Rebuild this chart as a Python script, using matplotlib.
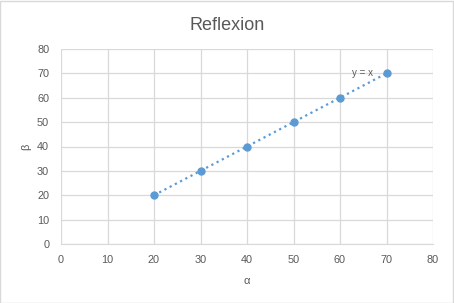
import matplotlib
matplotlib.use('Agg')
import matplotlib.pyplot as plt

# data
alpha = [20, 30, 40, 50, 60, 70]
beta = [20, 30, 40, 50, 60, 70]
ticks = list(range(0, 90, 10))

blue = '#5B9BD5'
grey = '#D9D9D9'
text = '#595959'

plt.rcParams['font.family'] = ['Liberation Sans', 'DejaVu Sans']

fig = plt.figure(figsize=(4.54, 3.03), dpi=100)
ax = fig.add_axes([61 / 454, 59 / 303, 372 / 454, 195 / 303])

ax.plot(alpha, beta, linestyle=':', color=blue, linewidth=1.6,
        marker='o', markersize=5, zorder=3)
ax.text(alpha[-1] - 3, beta[-1], 'y = x', ha='right', va='center',
        fontsize=7, color=text)

ax.set_xlim(0, 80)
ax.set_ylim(0, 80)
ax.set_xticks(ticks)
ax.set_yticks(ticks)
ax.grid(True, color=grey, linewidth=0.9)
ax.set_axisbelow(True)
for side in ['top', 'right', 'left']:
    ax.spines[side].set_visible(False)
ax.spines['bottom'].set_color(grey)
ax.tick_params(axis='y', length=0, labelsize=7.8, labelcolor=text, pad=8.5)
ax.tick_params(axis='x', length=0, labelsize=7.8, labelcolor=text, pad=8)

ax.set_xlabel('α', fontsize=8, color=text, labelpad=8)
ax.set_ylabel('β', fontsize=8, color=text, labelpad=4.5)
fig.suptitle('Reflexion', fontsize=13, color=text, y=0.945)

# thin border round the chart
fig.patches.append(plt.Rectangle((0.001, 0.001), 0.997, 0.997, fill=False,
                                 edgecolor=grey, linewidth=1,
                                 transform=fig.transFigure))

fig.savefig('out.png', dpi=100)
